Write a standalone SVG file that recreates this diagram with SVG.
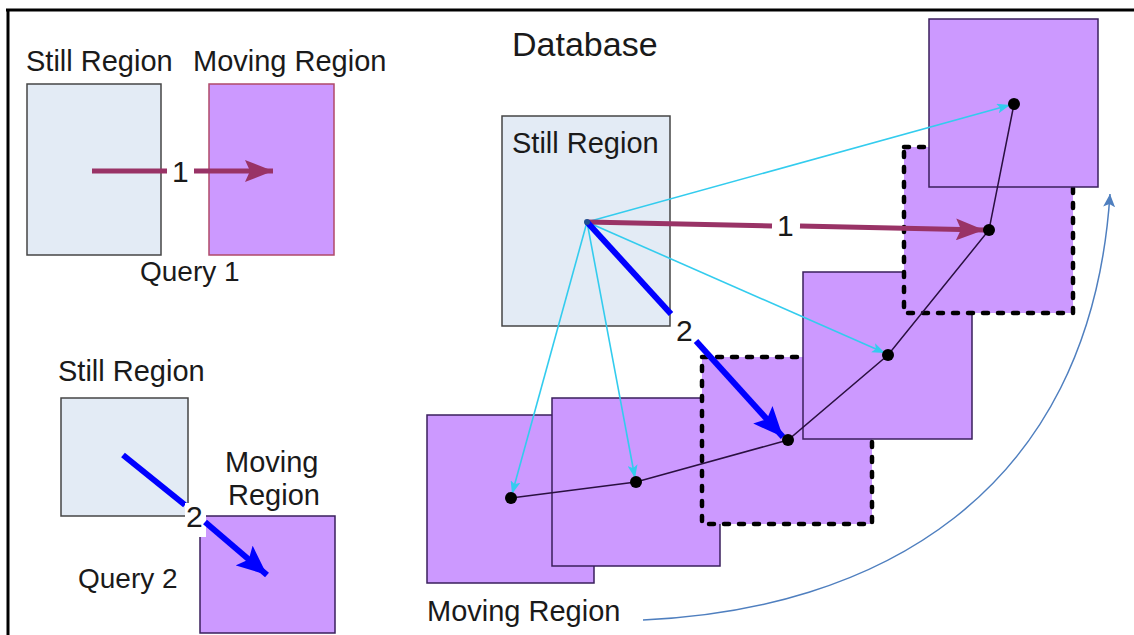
<svg xmlns="http://www.w3.org/2000/svg" width="1134" height="635" viewBox="0 0 1134 635">
  <style>
    text { font-family: "Liberation Sans", Arial, sans-serif; fill: #1a1a1a; }
    .lbl { font-size: 29px; }
    .qry { font-size: 28px; }
    .big { font-size: 34px; }
    .num { font-size: 30px; }
    .still { fill: #e3ebf5; stroke: #454545; stroke-width: 1.5; }
    .move { fill: #cc99ff; stroke: #3a1f5c; stroke-width: 1.5; }
    .moveDash { fill: #cc99ff; stroke: #000; stroke-width: 4.5; stroke-dasharray: 5 10; stroke-linecap: round; }
    .pt { fill: #000; }
    .q1 { stroke: #993366; stroke-width: 5; fill: none; }
    .q2 { stroke: #0000ff; stroke-width: 6; fill: none; }
    .cy { stroke: #33ccee; stroke-width: 1.6; fill: none; }
    .path { stroke: #2a1040; stroke-width: 1.5; fill: none; }
  </style>
  <defs>
    <marker id="headQ1" markerUnits="userSpaceOnUse" markerWidth="30" markerHeight="22" refX="28" refY="11" orient="auto">
      <path d="M0,0 L28,11 L0,22 L5,11 z" fill="#993366"/>
    </marker>
    <marker id="headQ2" markerUnits="userSpaceOnUse" markerWidth="32" markerHeight="26" refX="30" refY="13" orient="auto">
      <path d="M0,0 L30,13 L0,26 L6,13 z" fill="#0000ff"/>
    </marker>
    <marker id="headCy" markerUnits="userSpaceOnUse" markerWidth="14" markerHeight="10" refX="13" refY="5" orient="auto">
      <path d="M0,0 L13,5 L0,10 L3,5 z" fill="#33ccee"/>
    </marker>
    <marker id="headBlue" markerUnits="userSpaceOnUse" markerWidth="14" markerHeight="12" refX="13" refY="6" orient="auto">
      <path d="M0,0 L13,6 L0,12 L3,6 z" fill="#4f7fbf"/>
    </marker>
  </defs>

  <!-- frame -->
  <g id="frame" stroke="#000" stroke-width="3">
    <line x1="6" y1="10" x2="1134" y2="10"/>
    <line x1="8" y1="9" x2="8" y2="635"/>
  </g>

  <!-- Query 1 -->
  <g id="query1">
    <text class="lbl" x="26" y="71">Still Region</text>
    <text class="lbl" x="193" y="71">Moving Region</text>
    <rect id="q1-still" class="still" x="27" y="84" width="134" height="171"/>
    <rect id="q1-moving" x="209" y="84" width="125" height="171" fill="#cc99ff" stroke="#b04a6a" stroke-width="1.5"/>
    <text class="qry" x="140" y="281">Query 1</text>
  </g>

  <!-- Query 2 -->
  <g id="query2">
    <text class="lbl" x="58" y="381">Still Region</text>
    <rect id="q2-still" class="still" x="61" y="398" width="127" height="118"/>
    <rect id="q2-moving" class="move" x="200" y="516" width="135" height="117"/>
    <text class="lbl" x="225" y="472">Moving</text>
    <text class="lbl" x="228" y="505">Region</text>
    <text class="qry" x="78" y="588">Query 2</text>
  </g>

  <!-- Database -->
  <g id="database">
    <text class="big" x="512" y="56">Database</text>
    <rect id="db-still" class="still" x="502" y="116" width="168" height="210"/>
    <text class="lbl" x="512" y="153">Still Region</text>
    <text class="lbl" x="427" y="621">Moving Region</text>
  </g>

  <!-- moving region snapshots, later ones drawn over earlier ones -->
  <g id="snapA"><rect class="move" x="427" y="415" width="167" height="168"/></g>
  <g id="snapB"><rect class="move" x="552" y="398" width="168" height="168"/></g>
  <g id="snapC"><rect class="moveDash" x="702" y="357" width="170" height="167"/></g>
  <g id="snapD"><rect class="move" x="803" y="272" width="169" height="167"/></g>
  <g id="snapE"><rect class="moveDash" x="904" y="147" width="169" height="166"/></g>
  <g id="snapF"><rect class="move" x="929" y="19" width="169" height="168"/></g>

  <!-- connectors -->
  <g id="connectors">
    <!-- Query 1 arrow -->
    <line class="q1" x1="92" y1="171" x2="167" y2="171"/>
    <line class="q1" x1="194" y1="171" x2="273" y2="171" marker-end="url(#headQ1)"/>
    <text class="num" x="172" y="182">1</text>

    <!-- Query 2 arrow -->
    <line class="q2" x1="123" y1="455" x2="185" y2="505"/>
    <rect x="185" y="503" width="21" height="34" fill="#fff"/>
    <line class="q2" x1="205" y1="522" x2="267" y2="575" marker-end="url(#headQ2)"/>
    <text class="num" x="186" y="527">2</text>

    <!-- trajectory of the moving region -->
    <polyline class="path" points="511,498 636,482 788,440 888,355 989,230 1014,104"/>

    <!-- candidate matches from the still region -->
    <line class="cy" x1="587" y1="222" x2="512" y2="494" marker-end="url(#headCy)"/>
    <line class="cy" x1="587" y1="222" x2="635" y2="478" marker-end="url(#headCy)"/>
    <line class="cy" x1="587" y1="222" x2="885" y2="353" marker-end="url(#headCy)"/>
    <line class="cy" x1="587" y1="222" x2="1010" y2="105" marker-end="url(#headCy)"/>

    <!-- query 1 match -->
    <line class="q1" x1="587" y1="222" x2="772" y2="226" stroke-width="4.5"/>
    <line class="q1" x1="800" y1="226" x2="984" y2="230" stroke-width="4.5" marker-end="url(#headQ1)"/>
    <text class="num" x="777" y="236">1</text>

    <!-- query 2 match -->
    <line class="q2" x1="587" y1="222" x2="671" y2="314" stroke-width="5"/>
    <line class="q2" x1="696" y1="341" x2="783" y2="437" stroke-width="5" marker-end="url(#headQ2)"/>
    <text class="num" x="676" y="341">2</text>

    <!-- points of the trajectory -->
    <circle class="pt" cx="511" cy="498" r="6"/>
    <circle class="pt" cx="636" cy="482" r="6"/>
    <circle class="pt" cx="788" cy="440" r="6"/>
    <circle class="pt" cx="888" cy="355" r="6"/>
    <circle class="pt" cx="989" cy="230" r="6"/>
    <circle class="pt" cx="1014" cy="104" r="6"/>
    <circle cx="587" cy="222" r="3" fill="#1f4f8f"/>

    <!-- time direction -->
    <path d="M643,620 C870,610 1090,500 1110,194" fill="none" stroke="#4f7fbf" stroke-width="1.5" marker-end="url(#headBlue)"/>
  </g>
</svg>
